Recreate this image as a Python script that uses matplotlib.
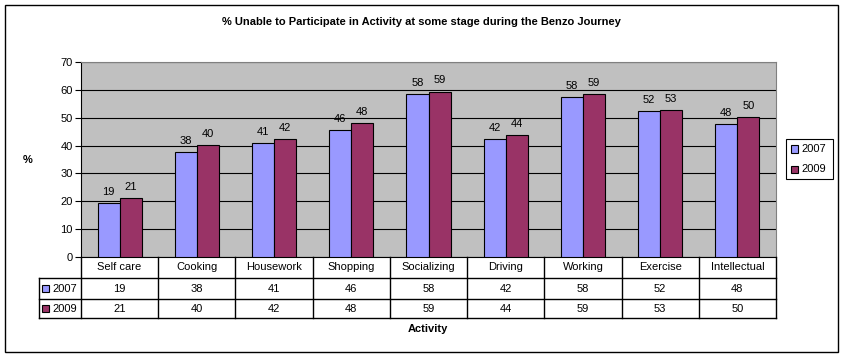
import numpy as np
import matplotlib.pyplot as plt
from matplotlib.patches import Rectangle
from matplotlib.lines import Line2D

plt.rcParams['font.family'] = ['Liberation Sans', 'DejaVu Sans']

activities = ['Self care', 'Cooking', 'Housework', 'Shopping', 'Socializing',
              'Driving', 'Working', 'Exercise', 'Intellectual']
series_names = ['2007', '2009']
vals_2007 = [19.3, 37.6, 41.0, 45.6, 58.4, 42.3, 57.5, 52.3, 47.8]
vals_2009 = [21.1, 40.2, 42.3, 48.2, 59.4, 43.8, 58.6, 52.6, 50.3]
colors = ['#9999FF', '#993366']

W, H = 843, 357
fig = plt.figure(figsize=(W / 100, H / 100), dpi=100)

def fx(px):
    return px / W

def fy(py):
    return 1 - py / H

# outer border
fig.patches.append(Rectangle((fx(5), fy(352)), fx(838) - fx(5), fy(5) - fy(352),
                             transform=fig.transFigure, fill=False, ec='black', lw=1))

x0, x1, ytop, ybot = 81, 776, 62, 257
ax = fig.add_axes([fx(x0), fy(ybot), fx(x1) - fx(x0), fy(ytop) - fy(ybot)])
ax.set_facecolor('#C0C0C0')

n = len(activities)
x = np.arange(n)
bw = 0.285
for i, (vals, c) in enumerate(zip([vals_2007, vals_2009], colors)):
    pos = x - bw / 2 + i * bw
    ax.bar(pos, vals, width=bw, color=c, edgecolor='black', linewidth=0.8, zorder=3)
    for p, v in zip(pos, vals):
        ax.text(p, v + 2.2, str(int(round(v))), ha='center', va='bottom', fontsize=8, zorder=4)

ax.set_xlim(-0.5, n - 0.5)
ax.set_ylim(0, 70)
ax.set_yticks(range(0, 71, 10))
ax.yaxis.grid(True, color='black', linewidth=0.8)
ax.set_axisbelow(True)
ax.set_xticks([])
ax.tick_params(axis='y', labelsize=8, length=4, width=0.8, pad=2)
for s in ['top', 'right']:
    ax.spines[s].set_color('#808080')
for s in ['left', 'bottom']:
    ax.spines[s].set_color('black')

# data table
rows_y = [257, 278, 299, 318]
table_rows = [vals_2007, vals_2009]
cw = (x1 - x0) / n
lines = []
lines.append(((39, x1), (rows_y[1], rows_y[1])))
lines.append(((39, x1), (rows_y[2], rows_y[2])))
lines.append(((39, x1), (rows_y[3], rows_y[3])))
lines.append(((39, 39), (rows_y[1], rows_y[3])))
for k in range(n + 1):
    xx = x0 + k * cw
    lines.append(((xx, xx), (rows_y[0], rows_y[3])))
for (xs, ys) in lines:
    fig.add_artist(Line2D([fx(v) for v in xs], [fy(v) for v in ys],
                          transform=fig.transFigure, color='black', lw=1))

for k, name in enumerate(activities):
    cx = x0 + (k + 0.5) * cw
    fig.text(fx(cx), fy((rows_y[0] + rows_y[1]) / 2), name, ha='center', va='center', fontsize=8)
    for r, vals in enumerate(table_rows):
        fig.text(fx(cx), fy((rows_y[r + 1] + rows_y[r + 2]) / 2), str(int(round(vals[k]))),
                 ha='center', va='center', fontsize=8)

for r, (name, c) in enumerate(zip(series_names, colors)):
    cy = (rows_y[r + 1] + rows_y[r + 2]) / 2
    fig.patches.append(Rectangle((fx(42), fy(cy + 3.5)), fx(7), 7 / H,
                                 transform=fig.transFigure, fc=c, ec='black', lw=0.8))
    fig.text(fx(52), fy(cy), name, ha='left', va='center', fontsize=8)

# legend
fig.patches.append(Rectangle((fx(786), fy(179)), fx(833) - fx(786), fy(139) - fy(179),
                             transform=fig.transFigure, fc='white', ec='black', lw=0.8))
for r, (name, c) in enumerate(zip(series_names, colors)):
    cy = 149 + r * 20
    fig.patches.append(Rectangle((fx(791), fy(cy + 3.5)), fx(7), 7 / H,
                                 transform=fig.transFigure, fc=c, ec='black', lw=0.8))
    fig.text(fx(801), fy(cy), name, ha='left', va='center', fontsize=8)

fig.text(fx(421), fy(22), '% Unable to Participate in Activity at some stage during the Benzo Journey',
         ha='center', va='center', fontsize=8, fontweight='bold')
fig.text(fx(28), fy(160), '%', ha='center', va='center', fontsize=8, fontweight='bold')
fig.text(fx(428), fy(329), 'Activity', ha='center', va='center', fontsize=8, fontweight='bold')

fig.savefig('out.png', dpi=100)
